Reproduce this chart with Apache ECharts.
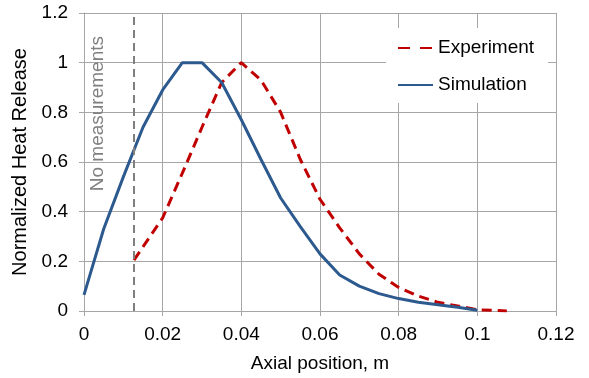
<!DOCTYPE html>
<html>
<head>
<meta charset="utf-8">
<script src="https://cdn.jsdelivr.net/npm/echarts@6/dist/echarts.min.js"></script>
<style>
  html, body { margin: 0; padding: 0; background: #fff; }
  #chart { width: 589px; height: 378px; }
</style>
</head>
<body>
<div id="chart"></div>
<script>
// data
var simX = [0, 0.005, 0.01, 0.015, 0.02, 0.025, 0.03, 0.035, 0.04, 0.045, 0.05, 0.055, 0.06, 0.065, 0.07, 0.075, 0.08, 0.085, 0.09, 0.095, 0.1]
var simY = [0.065, 0.33, 0.54, 0.74, 0.89, 1.0, 1.0, 0.92, 0.77, 0.61, 0.455, 0.34, 0.23, 0.145, 0.1, 0.07, 0.05, 0.035, 0.025, 0.015, 0.003]
var expX = [0.0127, 0.02, 0.025, 0.03, 0.035, 0.04, 0.045, 0.05, 0.055, 0.06, 0.065, 0.07, 0.075, 0.08, 0.085, 0.09, 0.095, 0.1, 0.1075]
var expY = [0.205, 0.375, 0.555, 0.74, 0.92, 1.0, 0.93, 0.8, 0.61, 0.45, 0.335, 0.23, 0.148, 0.095, 0.06, 0.035, 0.02, 0.005, 0]
var noMeasureX = 0.0127
var xTicks = { min: 0, max: 0.12, interval: 0.02 }
var yTicks = { min: 0, max: 1.2, interval: 0.2 }

var font = 'Liberation Sans, Arial, sans-serif'
var gridColor = '#a6a6a6'

function pairs(xs, ys) {
    return xs.map(function (x, i) { return [x, ys[i]] })
}

var chart = echarts.init(document.getElementById('chart'))

var option = {
    animation: false,
    textStyle: { fontFamily: font },
    grid: { left: 84, right: 33, top: 13, bottom: 65, containLabel: false },
    legend: {
        orient: 'vertical',
        left: 386,
        top: 28,
        padding: [10, 14, 8, 11],
        backgroundColor: '#fff',
        itemWidth: 35,
        itemHeight: 14,
        itemGap: 17,
        itemStyle: { color: 'transparent', borderWidth: 0 },
        textStyle: { fontSize: 19, color: '#000', lineHeight: 20, fontFamily: font },
        data: [
            { name: 'Experiment', lineStyle: { type: [12, 10] } },
            { name: 'Simulation' }
        ]
    },
    xAxis: {
        type: 'value',
        min: xTicks.min, max: xTicks.max, interval: xTicks.interval,
        name: 'Axial position, m',
        nameLocation: 'middle',
        nameGap: 43,
        nameTextStyle: { fontSize: 19, color: '#000', fontFamily: font },
        axisLine: { lineStyle: { color: gridColor, width: 1 } },
        axisTick: { show: true, length: 5, lineStyle: { color: gridColor } },
        axisLabel: {
            fontSize: 19, color: '#000', margin: 14, fontFamily: font,
            formatter: function (v) { return String(Math.round(v * 100) / 100) }
        },
        splitLine: { show: true, lineStyle: { color: gridColor, width: 1 } }
    },
    yAxis: {
        type: 'value',
        min: yTicks.min, max: yTicks.max, interval: yTicks.interval,
        name: 'Normalized Heat Release',
        nameLocation: 'middle',
        nameGap: 46,
        nameTextStyle: { fontSize: 20, color: '#000', fontFamily: font },
        axisLine: { show: true, lineStyle: { color: gridColor, width: 1 } },
        axisTick: { show: true, length: 5, lineStyle: { color: gridColor } },
        axisLabel: {
            fontSize: 19, color: '#000', margin: 16, fontFamily: font,
            formatter: function (v) { return String(Math.round(v * 10) / 10) }
        },
        splitLine: { show: true, lineStyle: { color: gridColor, width: 1 } }
    },
    series: [
        {
            name: 'Experiment',
            type: 'line',
            symbol: 'none',
            data: pairs(expX, expY),
            color: '#c00000',
            lineStyle: { color: '#c00000', width: 3, type: [10, 6] },
            z: 3,
            markLine: {
                silent: true,
                precision: 4,
                symbol: ['none', 'none'],
                label: { show: false },
                lineStyle: { color: '#7f7f7f', width: 2, type: [8, 5] },
                data: [{ xAxis: noMeasureX }]
            }
        },
        {
            name: 'Simulation',
            type: 'line',
            symbol: 'none',
            data: pairs(simX, simY),
            color: '#2c5a8e',
            lineStyle: { color: '#2c5a8e', width: 3 },
            z: 4
        }
    ]
}

chart.setOption(option)

// rotated note left of the dashed line
var p = chart.convertToPixel({ gridIndex: 0 }, [noMeasureX, 0.98])
chart.setOption({
    graphic: [{
        type: 'text',
        x: p[0] - 36,
        y: p[1] + 46,
        rotation: Math.PI / 2,
        style: {
            text: 'No measurements',
            fill: '#808080',
            font: '19px ' + font,
            textAlign: 'center',
            textVerticalAlign: 'middle'
        }
    }]
})
</script>
</body>
</html>
